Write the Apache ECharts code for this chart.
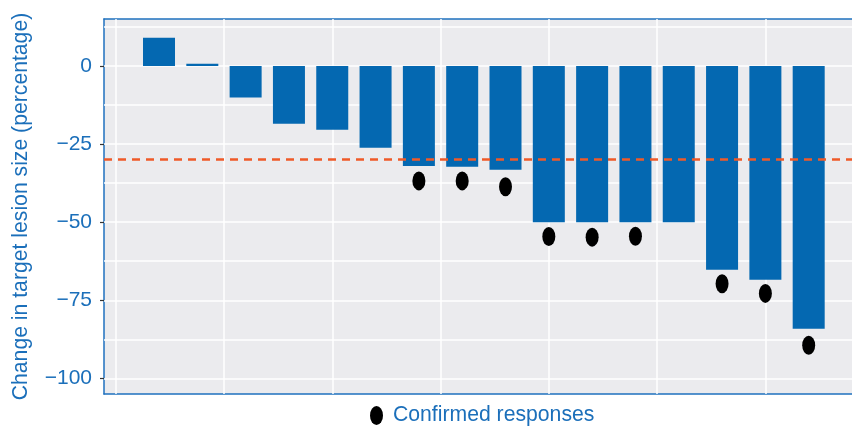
<!DOCTYPE html>
<html><head><meta charset="utf-8">
<script src="https://cdn.jsdelivr.net/npm/echarts@6/dist/echarts.min.js"></script>
<style>html,body{margin:0;padding:0;background:#fff}#c{width:852px;height:427px}</style>
</head><body><div id="c"></div>
<script>
const patients = [1,2,3,4,5,6,7,8,9,10,11,12,13,14,15,16];
const changes = [9,0.7,-10.1,-18.5,-20.4,-26.2,-32.0,-32.3,-33.2,-50,-50,-50,-50,-65.2,-68.4,-84.1];
const responsePatients = [7,8,9,10,11,12,14,15,16];
const responseMarkers = [-36.8,-36.8,-38.7,-54.6,-54.8,-54.5,-69.7,-72.8,-89.4];
const yTicks = [-100,-75,-50,-25,0];
const yGrid = [-100,-87.5,-75,-62.5,-50,-37.5,-25,-12.5,0,12.5];
const xGrid = [0,2.5,5,7.5,10,12.5,15];
const threshold = -30;
const legendName = 'Confirmed responses';
const yTitle = 'Change in target lesion size (percentage)';

const BLUE_TEXT = '#1b6fba';
const BORDER = '#1f71bf';
const FONT = '"Liberation Sans", Arial, sans-serif';
const ELLIPSE = 'path://M13,9.5A6.5,9.5,0,1,1,0,9.5A6.5,9.5,0,1,1,13,9.5Z';

const chart = echarts.init(document.getElementById('c'), null, {renderer: 'canvas'});
const hiddenX = {axisTick: {show: false}, axisLabel: {show: false}, splitLine: {show: false}};
chart.setOption({
  animation: false,
  backgroundColor: '#ffffff',
  grid: {left: 104, top: 19, width: 748, height: 375, show: true,
         backgroundColor: '#ebebee', borderWidth: 0},
  xAxis: [
    Object.assign({type: 'value', min: -0.27, max: 17.0, position: 'bottom',
      axisLine: {show: true, onZero: false, lineStyle: {color: BORDER, width: 1.5}}}, hiddenX),
    Object.assign({type: 'value', min: -0.27, max: 17.0, position: 'top',
      axisLine: {show: true, onZero: false, lineStyle: {color: BORDER, width: 1.5}}}, hiddenX)
  ],
  yAxis: {type: 'value', min: -105, max: 15,
          name: yTitle, nameLocation: 'middle', nameRotate: 90, nameGap: 72,
          nameTextStyle: {color: BLUE_TEXT, fontSize: 21.2, fontFamily: FONT},
          axisLine: {show: true, onZero: false, lineStyle: {color: BORDER, width: 1.5}},
          axisTick: {show: true, length: 4, customValues: yTicks, lineStyle: {color: '#333', width: 1.2}},
          axisLabel: {customValues: yTicks, color: BLUE_TEXT, fontSize: 21, fontFamily: FONT, margin: 12,
                      formatter: v => String(v).replace('-', '\u2212')},
          splitLine: {show: false}},
  legend: {data: [{name: legendName, icon: ELLIPSE}], left: 370, top: 405, padding: 0,
           itemWidth: 13, itemHeight: 19,
           itemStyle: {color: '#000000', opacity: 1},
           textStyle: {color: BLUE_TEXT, fontSize: 21.2, fontFamily: FONT, padding: [0,0,0,5]}},
  series: [
    {type: 'line', data: [], silent: true, z: 1,
     markLine: {silent: true, symbol: 'none', z: 1, label: {show: false},
       lineStyle: {color: '#ffffff', width: 1.5, type: 'solid'},
       data: yGrid.map(v => ({yAxis: v})).concat(xGrid.map(v => ({xAxis: v})))}},
    {type: 'bar', z: 3, barWidth: 32,
     itemStyle: {color: '#0468b1'},
     data: patients.map((p, i) => [p, changes[i]]),
     markLine: {silent: true, symbol: 'none', z: 6, label: {show: false},
       lineStyle: {color: '#ef5a28', width: 2.5, type: [8, 6]},
       data: [{yAxis: threshold}]}},
    {type: 'scatter', name: legendName, z: 5, symbol: 'circle', symbolSize: [13, 19],
     itemStyle: {color: '#000000', opacity: 1},
     data: responsePatients.map((p, i) => [p, responseMarkers[i]])}
  ]
});
</script></body></html>
